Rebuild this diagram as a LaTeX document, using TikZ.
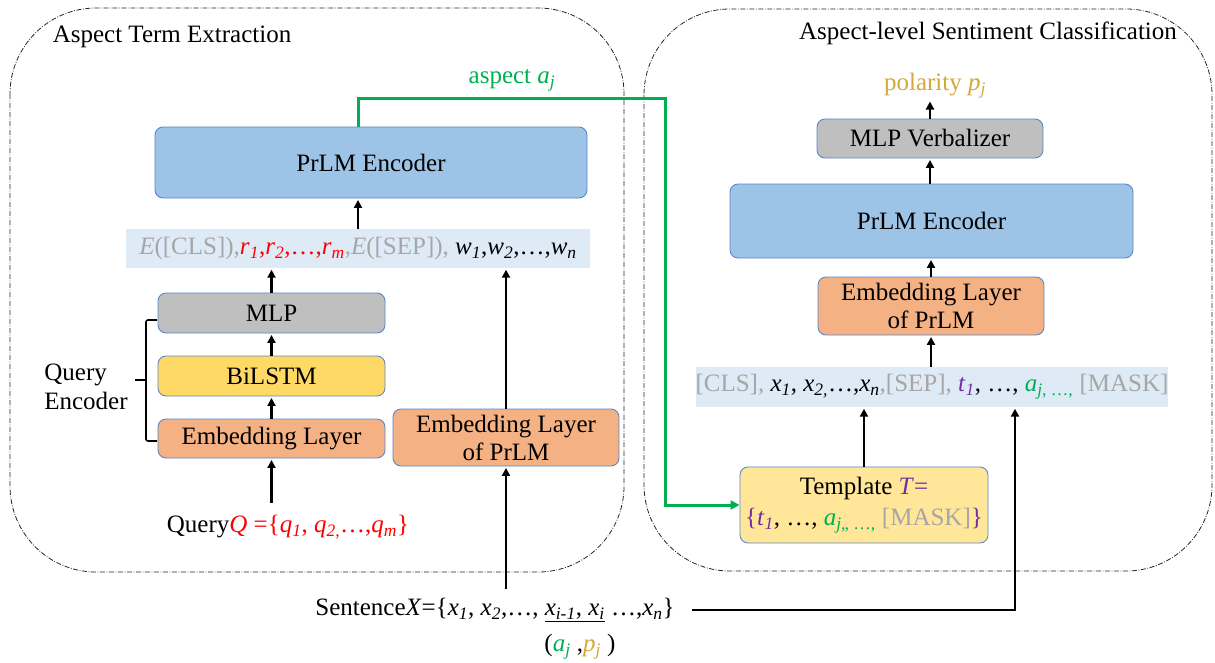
\documentclass[tikz,border=0pt]{standalone}
\usepackage{fontspec}
\setmainfont{Liberation Serif}
\usetikzlibrary{arrows.meta}
\definecolor{boxblue}{HTML}{9DC3E6}
\definecolor{boxborder}{HTML}{5B86C9}
\definecolor{boxgray}{HTML}{BFBFBF}
\definecolor{boxyellow}{HTML}{FFD966}
\definecolor{boxorange}{HTML}{F4B183}
\definecolor{boxtempl}{HTML}{FFE699}
\definecolor{bandblue}{HTML}{DEEBF7}
\definecolor{tgray}{HTML}{A6A6A6}
\definecolor{tgreen}{HTML}{00B050}
\definecolor{tred}{HTML}{FF0000}
\definecolor{tpurple}{HTML}{7030A0}
\definecolor{tgold}{RGB}{212,168,58}
\newcommand\V[2]{\textit{#1}\textsubscript{\textit{#2}}}
\begin{document}
\begin{tikzpicture}[x=1pt,y=-1pt,
  every node/.style={font=\fontsize{25}{28}\selectfont},
  blk/.style={draw=boxborder, line width=0.9pt, rounded corners=8pt, inner sep=0pt, align=center},
  band/.style={fill=bandblue, inner sep=0pt},
  arr/.style={line width=2.4pt, shorten >=1.5pt, -{Triangle[length=8pt,width=8pt]}},
  garr/.style={line width=3pt, draw=tgreen, -{Triangle[length=9pt,width=9pt]}},
  dashbox/.style={line width=0.8pt, draw=black!85, dash pattern=on 5pt off 1.6pt on 0.8pt off 1.6pt, rounded corners=86pt},
  txt/.style={inner sep=1pt}]
\useasboundingbox (0,0) rectangle (1215,662);
% group frames
\draw[dashbox] (10,8) rectangle (624,572);
\draw[dashbox] (644,9) rectangle (1212,571);
\node[txt] (titleL) at (172,37) {Aspect Term Extraction};
\node[txt] (titleR) at (988,33) {Aspect-level Sentiment Classification};
% left column
\node[blk, fill=boxblue, minimum width=432pt, minimum height=71pt] (prlmL) at (371,162.5) {PrLM Encoder};
\node[band, minimum width=464pt, minimum height=39pt] (bandL) at (358,248.5)
  {\textcolor{tgray}{\textit{E}([CLS]),}\textcolor{tred}{\V{r}{1},\V{r}{2},\ldots,\V{r}{m}}\textcolor{tgray}{,\textit{E}([SEP]),} \V{w}{1},\V{w}{2},\ldots,\V{w}{n}};
\node[blk, fill=boxgray, minimum width=227pt, minimum height=40pt] (mlp) at (271.5,313) {MLP};
\node[blk, fill=boxyellow, minimum width=227pt, minimum height=40pt] (bilstm) at (271.5,376) {BiLSTM};
\node[blk, fill=boxorange, minimum width=227pt, minimum height=39pt] (emb) at (271.5,438.5) {Embedding Layer};
\node[blk, fill=boxorange, minimum width=226pt, minimum height=57pt] (embP) at (506,437.5) {Embedding Layer\\of PrLM};
\node[txt, align=left, font=\fontsize{25}{29}\selectfont] (qenc) at (86,387) {Query\\Encoder};
\node[txt] (query) at (288,527) {Query\textcolor{tred}{\textit{Q} =\{\V{q}{1}, \V{q}{2,}…,\V{q}{m}\}}};
\draw[line width=1.6pt, rounded corners=2pt] (157,320) -- (146,320) -- (146,441) -- (157,441);
\draw[line width=1.6pt] (146,380) -- (135,380);
% sentence
\node[txt] (sent) at (495,610) {Sentence\textit{X}=\{\V{x}{1}, \V{x}{2},…, \underline{\V{x}{i-1}, \V{x}{i}} …,\V{x}{n}\}};
\node[txt] (ap) at (580,647) {(\textcolor{tgreen}{\V{a}{j}} ,\textcolor{tgold}{\V{p}{j}} )};
% left arrows
\draw[arr] (emb.south |- 0,503) -- (emb.south);
\draw[arr] (emb.north) -- (bilstm.south);
\draw[arr] (bilstm.north) -- (mlp.south);
\draw[arr] (mlp.north) -- (mlp.north |- bandL.south);
\draw[arr] (bandL.north) -- (bandL.north |- prlmL.south);
\draw[arr] (embP.south |- 0,589) -- (embP.south);
\draw[arr] (embP.north) -- (embP.north |- bandL.south);
% right column
\node[txt, text=tgold] (pol) at (935,86) {polarity \V{p}{j}};
\node[blk, fill=boxgray, minimum width=226pt, minimum height=39pt] (mlpv) at (930,138.5) {MLP Verbalizer};
\node[blk, fill=boxblue, minimum width=403pt, minimum height=74pt] (prlmR) at (931.5,221) {PrLM Encoder};
\node[blk, fill=boxorange, minimum width=226pt, minimum height=58pt] (embR) at (931,306) {Embedding Layer\\of PrLM};
\node[band, minimum width=466pt, minimum height=40pt] (bandR) at (932,387)
  {\textcolor{tgray}{[CLS],} \V{x}{1}, \V{x}{2,}…,\V{x}{n}\textcolor{tgray}{,[SEP],} \textcolor{tpurple}{\V{t}{1}}, …, \textcolor{tgreen}{\textit{a}\textsubscript{\textit{j}, …,}} \textcolor{tgray}{[MASK]}};
\node[blk, fill=boxtempl, minimum width=248pt, minimum height=76pt, font=\fontsize{25}{31}\selectfont] (templ) at (864,505)
  {Template \textcolor{tpurple}{\textit{T}=}\\\textcolor{tpurple}{\{\V{t}{1}}, …, \textcolor{tgreen}{\textit{a}\textsubscript{\textit{j},, …,}} \textcolor{tgray}{[MASK]}\textcolor{tpurple}{\}}};
\draw[arr] (mlpv.north) -- (mlpv.north |- 0,100);
\draw[arr] (prlmR.north -| mlpv.south) -- (mlpv.south);
\draw[arr] (embR.north) -- (embR.north |- prlmR.south);
\draw[arr] (embR.south |- bandR.north) -- (embR.south);
\draw[arr] (templ.north) -- (templ.north |- bandR.south);
\draw[arr] ([xshift=16pt]sent.east) -| ([xshift=83pt]bandR.south);
% green aspect path
\node[txt, text=tgreen] (asp) at (512,80) {aspect \V{a}{j}};
\coordinate (gc) at (665,98);
\draw[garr] (bandL.north |- prlmL.north) |- (gc) |- (templ.west);
\end{tikzpicture}
\end{document}
